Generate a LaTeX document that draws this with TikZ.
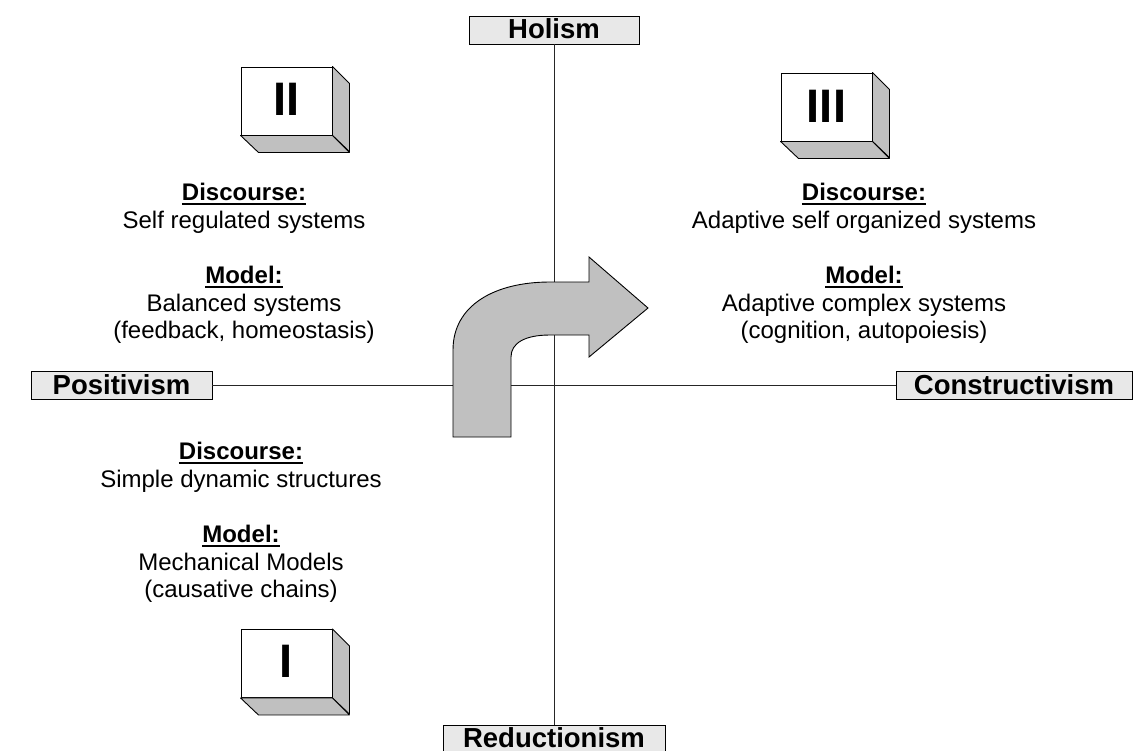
\documentclass[tikz,border=0pt]{standalone}
\usepackage{fontspec}
\setmainfont{Liberation Sans}
\definecolor{sidegray}{RGB}{192,192,192}
\definecolor{labelgray}{RGB}{232,232,232}
\newcommand\ulthick[1]{\setbox0\hbox{#1}\rlap{\rule[-4.8pt]{\wd0}{2pt}}\box0}
\begin{document}
\begin{tikzpicture}[x=1pt,y=-1pt,
  axisbox/.style={draw=black,fill=labelgray,line width=0.9pt,minimum width=#1,minimum height=28pt,
    inner sep=0pt,text height=19.7pt,text depth=2pt,font=\fontsize{27.5}{30}\selectfont\bfseries},
  axisline/.style={draw=black!85,line width=0.9pt},
  front/.style={draw=black,fill=white,line width=0.9pt,minimum width=91pt,minimum height=68pt,inner sep=0pt},
  side/.style={draw=black,fill=sidegray,line width=0.9pt,line join=round},
  numeral/.style={anchor=base,inner sep=0pt,font=\fontsize{47}{50}\selectfont\bfseries},
  txt/.style={anchor=base,inner sep=0pt,font=\fontsize{24}{28}\selectfont},
  hd/.style={anchor=base,inner sep=0pt,font=\fontsize{24}{28}\selectfont\bfseries},
  bigarrow/.style={draw=black,fill=sidegray,line width=0.9pt,line join=miter}]
\useasboundingbox (0,0) rectangle (1145,750);

% axis labels
\node[axisbox=170pt] (hol) at (554,30) {Holism};
\node[axisbox=222pt] (red) at (554,739) {Reductionism};
\node[axisbox=181pt] (pos) at (121.5,385.5) {Positivism};
\node[axisbox=236pt] (con) at (1014,385.5) {Constructivism};

% axes
\draw[axisline] (hol.south) -- (red.north);
\draw[axisline] (pos.east) -- (con.west);

% turning arrow
\draw[bigarrow] (453,437) -- (453,350) .. controls (453,305) and (495,282) .. (550,282)
  -- (589,282) -- (589,257) -- (648,308) -- (589,357) -- (589,335) -- (550,335)
  .. controls (525,335) and (511,343) .. (511,357) -- (511,437) -- cycle;

% cube II
\node[front] (c2) at (286.5,101) {};
\draw[side] (c2.north east) -- ++(17,17) -- ++(0,68) -- (c2.south east) -- cycle;
\draw[side] (c2.south west) -- (c2.south east) -- ++(17,17) -- ++(-91,0) -- cycle;
\node[numeral] (n2) at (286.5,115) {II};

% cube III
\node[front] (c3) at (826.5,107) {};
\draw[side] (c3.north east) -- ++(17,17) -- ++(0,68) -- (c3.south east) -- cycle;
\draw[side] (c3.south west) -- (c3.south east) -- ++(17,17) -- ++(-91,0) -- cycle;
\node[numeral] (n3) at (826.5,122) {III};

% cube I
\node[front] (c1) at (286.5,663.5) {};
\draw[side] (c1.north east) -- ++(17,17) -- ++(0,68) -- (c1.south east) -- cycle;
\draw[side] (c1.south west) -- (c1.south east) -- ++(17,17) -- ++(-91,0) -- cycle;
\node[numeral] (n1) at (286.5,677) {I};

% quadrant II text
\node[hd]  (d2)  at (244,200) {\ulthick{Discourse:}};
\node[txt] (d2a) at (244,228) {Self regulated systems};
\node[hd]  (m2)  at (244,283) {\ulthick{Model:}};
\node[txt] (m2a) at (244,311) {Balanced systems};
\node[txt] (m2b) at (244,338) {(feedback, homeostasis)};

% quadrant III text
\node[hd]  (d3)  at (864,200) {\ulthick{Discourse:}};
\node[txt] (d3a) at (864,228) {Adaptive self organized systems};
\node[hd]  (m3)  at (864,283) {\ulthick{Model:}};
\node[txt] (m3a) at (864,311) {Adaptive complex systems};
\node[txt] (m3b) at (864,338) {(cognition, autopoiesis)};

% quadrant I text
\node[hd]  (d1)  at (241,459) {\ulthick{Discourse:}};
\node[txt] (d1a) at (241,487) {Simple dynamic structures};
\node[hd]  (m1)  at (241,542) {\ulthick{Model:}};
\node[txt] (m1a) at (241,570) {Mechanical Models};
\node[txt] (m1b) at (241,597) {(causative chains)};
\end{tikzpicture}
\end{document}
